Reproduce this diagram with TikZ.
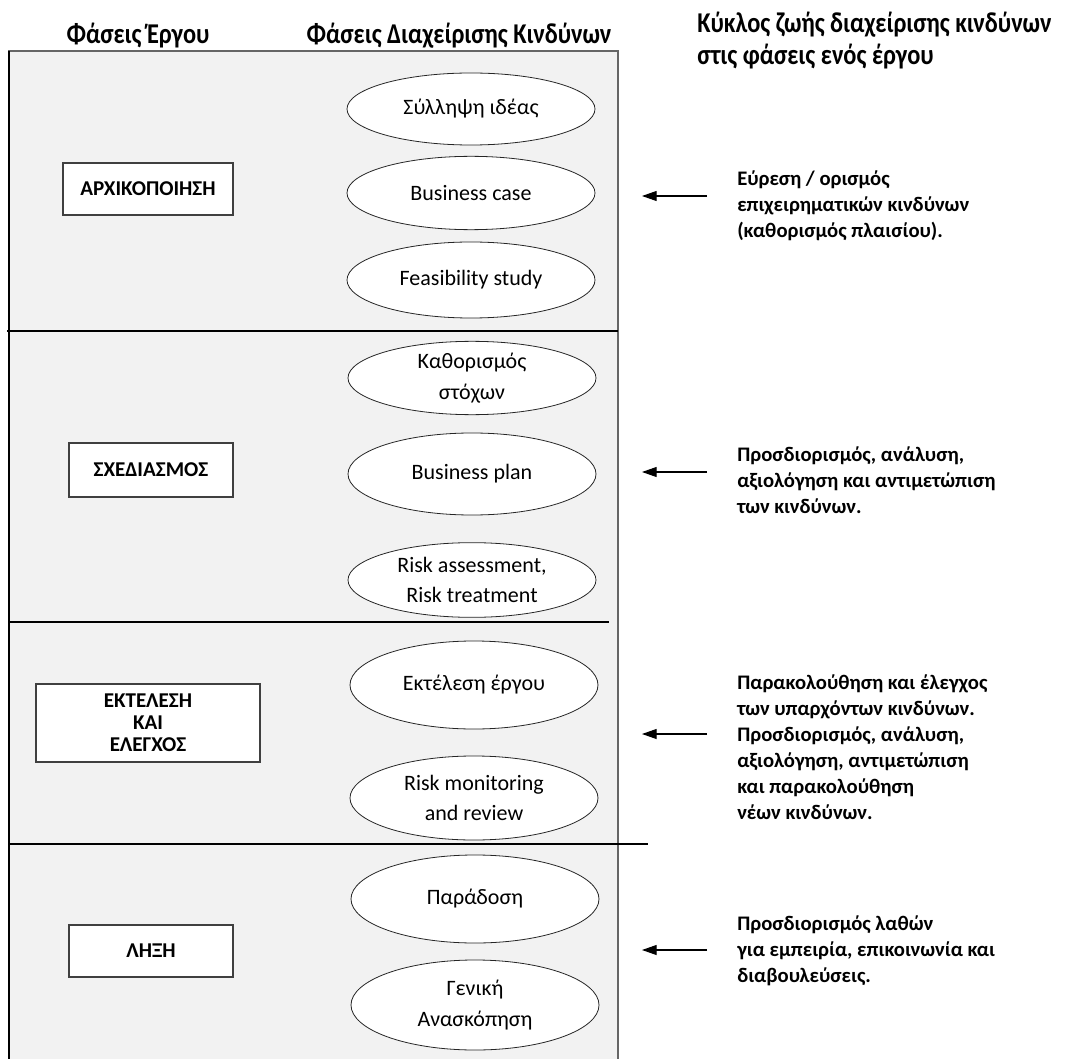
\documentclass[tikz,border=0pt]{standalone}
\usepackage{fontspec}
\setmainfont{Carlito}
\newfontfamily\condfont[FakeStretch=0.85]{Carlito Bold}
\usetikzlibrary{arrows.meta,shapes.geometric}
\definecolor{panel}{HTML}{F2F2F2}
\begin{document}
\begin{tikzpicture}[x=0.75pt,y=-0.75pt,
  riskell/.style={draw=black!85, line width=0.6pt, fill=white, ellipse, inner sep=0pt,
    minimum width=186pt, align=center, font=\fontsize{16.5}{23}\selectfont},
  phasebox/.style={draw=black!75, line width=0.8pt, fill=white, inner sep=0pt, align=center,
    font=\bfseries\fontsize{15.8}{16.5}\selectfont},
  sepline/.style={black, line width=1pt},
  note/.style={anchor=west, align=left, inner sep=0pt, font=\bfseries\fontsize{15.5}{19.5}\selectfont},
  head/.style={inner sep=0pt, font=\condfont\fontsize{21.5}{24}\selectfont},
  pointer/.style={-{Triangle[length=11pt,width=7.5pt]}, line width=0.8pt}]
\useasboundingbox (0,0) rectangle (1067,1059);
\clip (0,0) rectangle (1067,1059);
\fill[white] (0,0) rectangle (1067,1059);
% panel
\draw[draw=black!60, line width=1pt, fill=panel] (9,51) rectangle (618,1080);
\draw[black, line width=1pt] (9,51) -- (9,1080);
\draw[sepline] (7,331) -- (618,331);
\draw[sepline] (9,622) -- (609,622);
\draw[sepline] (9,844) -- (648,844);
% headers
\node[head] (h1) at (138,36) {Φάσεις Έργου};
\node[head] (h2) at (459,36) {Φάσεις Διαχείρισης Κινδύνων};
\node[head, anchor=west, align=left] (title) at (697,41) {Κύκλος ζωής διαχείρισης κινδύνων\\στις φάσεις ενός έργου};
% phase boxes
\node[phasebox, minimum width=127.5pt, minimum height=39pt] (p1) at (148,189) {ΑΡΧΙΚΟΠΟΙΗΣΗ};
\node[phasebox, minimum width=123pt, minimum height=40.5pt] (p2) at (151,470) {ΣΧΕΔΙΑΣΜΟΣ};
\node[phasebox, minimum width=168pt, minimum height=58.5pt] (p3) at (148,723) {ΕΚΤΕΛΕΣΗ\\ΚΑΙ\\ΕΛΕΓΧΟΣ};
\node[phasebox, minimum width=123pt, minimum height=39pt] (p4) at (151,951) {ΛΗΞΗ};
% risk ellipses
\node[riskell, minimum height=54pt] (e1) at (471,109) {Σύλληψη ιδέας};
\node[riskell, minimum height=55pt] (e2) at (471,193) {Business case};
\node[riskell, minimum height=57pt] (e3) at (471,280) {Feasibility study};
\node[riskell, minimum height=55pt] (e4) at (472,378) {Καθορισμός\\στόχων};
\node[riskell, minimum height=61.5pt] (e5) at (472,474) {Business plan};
\node[riskell, minimum height=56pt] (e6) at (472,580) {Risk assessment,\\Risk treatment};
\node[riskell, minimum height=66pt] (e7) at (474,685) {Εκτέλεση έργου};
\node[riskell, minimum height=63pt] (e8) at (474,798) {Risk monitoring\\and review};
\node[riskell, minimum height=66pt] (e9) at (475,899) {Παράδοση};
\node[riskell, minimum height=67.5pt] (e10) at (475,1005) {Γενική\\Ανασκόπηση};
% notes
\node[note] (n1) at (737,206) {Εύρεση / ορισμός\\επιχειρηματικών κινδύνων\\(καθορισμός πλαισίου).};
\node[note] (n2) at (737,480) {Προσδιορισμός, ανάλυση,\\αξιολόγηση και αντιμετώπιση\\των κινδύνων.};
\node[note] (n3) at (737,747) {Παρακολούθηση και έλεγχος\\των υπαρχόντων κινδύνων.\\Προσδιορισμός, ανάλυση,\\αξιολόγηση, αντιμετώπιση\\και παρακολούθηση\\νέων κινδύνων.};
\node[note] (n4) at (737,951) {Προσδιορισμός λαθών\\για εμπειρία, επικοινωνία και\\διαβουλεύσεις.};
% arrows
\coordinate (a1s) at (707,196); \coordinate (a1e) at (642,196);
\coordinate (a2s) at (707,472); \coordinate (a2e) at (642,472);
\coordinate (a3s) at (707,734); \coordinate (a3e) at (642,734);
\coordinate (a4s) at (707,950); \coordinate (a4e) at (642,950);
\draw[pointer] (a1s) -- (a1e);
\draw[pointer] (a2s) -- (a2e);
\draw[pointer] (a3s) -- (a3e);
\draw[pointer] (a4s) -- (a4e);
\end{tikzpicture}
\end{document}
